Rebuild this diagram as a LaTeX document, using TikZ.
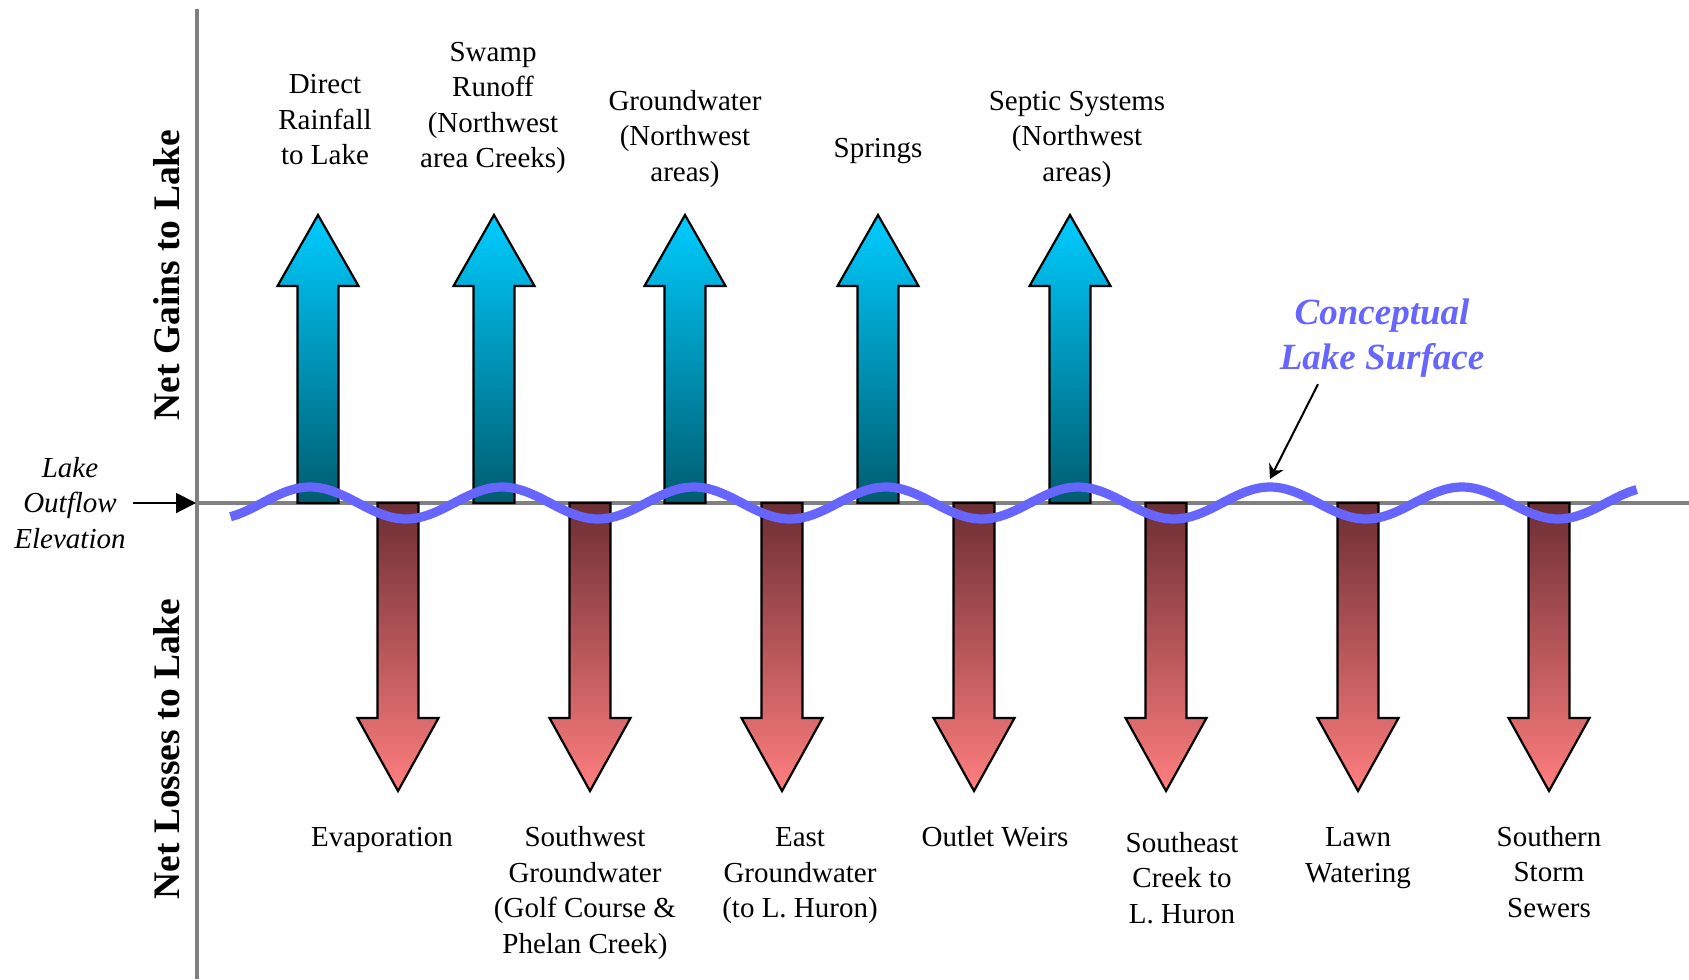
\documentclass[tikz,border=0pt]{standalone}
\usepackage{fontspec}
\setmainfont{Liberation Serif}
\usetikzlibrary{arrows.meta,positioning}
\definecolor{gaintop}{RGB}{0,204,255}
\definecolor{gainbot}{RGB}{0,92,112}
\definecolor{losstop}{RGB}{108,46,52}
\definecolor{lossbot}{RGB}{255,126,126}
\definecolor{lakeblue}{RGB}{102,102,255}
\definecolor{axisgray}{RGB}{128,128,128}
\tikzset{
axisline/.style={draw=axisgray,line width=2pt},
gainarrow/.style={draw=black,line width=1.1pt,line join=miter,top color=gaintop,bottom color=gainbot},
lossarrow/.style={draw=black,line width=1.1pt,line join=miter,top color=losstop,bottom color=lossbot},
lakewave/.style={draw=lakeblue,line width=4.6pt},
flowlabel/.style={align=center,font=\fontsize{14.5pt}{17.75pt}\selectfont},
sidetitle/.style={rotate=90,font=\fontsize{18.75pt}{22pt}\selectfont\bfseries},
notelabel/.style={align=center,text=lakeblue,font=\fontsize{18.5pt}{22.3pt}\selectfont\bfseries\itshape},
pointer/.style={-{Stealth[length=7pt,width=8pt]},line width=1pt},
levelarrow/.style={-{Triangle[length=10pt,width=10pt]},line width=1pt}
}
\begin{document}
\begin{tikzpicture}[x=0.5pt,y=-0.5pt]
\useasboundingbox (0,0) rectangle (1689,979);
% axes
\draw[axisline] (197,9) -- (197,979);
\draw[axisline,line width=1.8pt] (197,503) -- (1689,503);
\coordinate (outflow) at (196,503);
\coordinate (crest) at (1270,479);
% gains and losses
\foreach \cx in {318,494,685,878,1070}
  \shadedraw[gainarrow] (\cx-20.5,503) -- (\cx-20.5,286) -- (\cx-40.5,286) -- (\cx,215)
    -- (\cx+40.5,286) -- (\cx+20.5,286) -- (\cx+20.5,503) -- cycle;
\foreach \cx in {398,590,782,974,1166,1358,1549}
  \shadedraw[lossarrow] (\cx-20.5,503) -- (\cx-20.5,718) -- (\cx-40.5,718) -- (\cx,791)
    -- (\cx+40.5,718) -- (\cx+20.5,718) -- (\cx+20.5,503) -- cycle;
% lake surface
\draw[lakewave] plot[domain=230.5:1636.7,samples=220,smooth] (\x,{503-16*cos(1.875*(\x-1270))});
% labels
\node[flowlabel] (rain) at (325,120) {Direct\\Rainfall\\to Lake};
\node[flowlabel] (swamp) at (493,108) {Swamp\\Runoff\\(Northwest\\area Creeks)};
\node[flowlabel] (gwnw) at (685,139) {Groundwater\\(Northwest\\areas)};
\node[flowlabel] (springs) at (878,151) {Springs};
\node[flowlabel] (septic) at (1077,139) {Septic Systems\\(Northwest\\areas)};
\node[flowlabel] (evap) at (382,840) {Evaporation};
\node[flowlabel] (swgw) at (585,893) {Southwest\\Groundwater\\(Golf Course \&\\Phelan Creek)};
\node[flowlabel] (eastgw) at (800,876) {East\\Groundwater\\(to L. Huron)};
\node[flowlabel] (weirs) at (995,837) {Outlet Weirs};
\node[flowlabel] (secreek) at (1182,878) {Southeast\\Creek to\\L. Huron};
\node[flowlabel] (lawn) at (1358,858) {Lawn\\Watering};
\node[flowlabel] (storm) at (1549,872) {Southern\\Storm\\Sewers};
\node[sidetitle] (gains) at (167,275) {Net Gains to Lake};
\node[sidetitle] (losses) at (167,749) {Net Losses to Lake};
\node[flowlabel,font=\fontsize{14.5pt}{17.75pt}\selectfont\itshape] (lakeout) at (70,503) {Lake\\Outflow\\Elevation};
\node[notelabel] (concept) at (1382,338) {Conceptual\\Lake Surface};
\draw[levelarrow] (lakeout.east) -- (outflow);
\draw[pointer] ([xshift=-32pt]concept.south) -- (crest);
\end{tikzpicture}
\end{document}
